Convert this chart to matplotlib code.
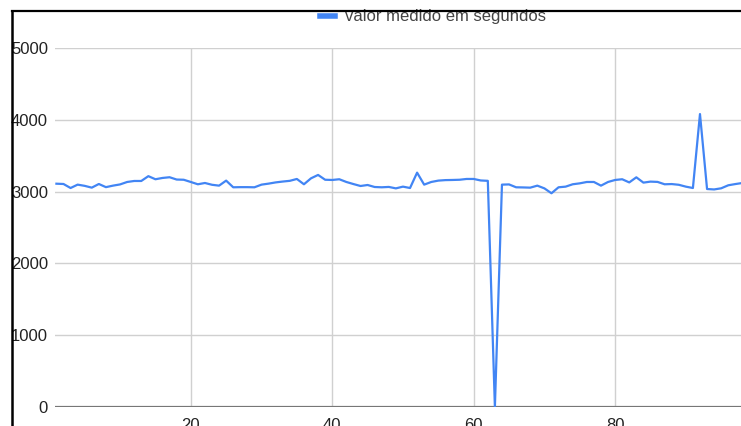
import matplotlib.pyplot as plt
from matplotlib.lines import Line2D

# valores (indice 1..98)
indices = list(range(1, 99))
valores = [
    3110, 3106, 3050, 3097, 3080, 3055, 3106, 3062, 3083, 3100,
    3134, 3148, 3148, 3215, 3172, 3190, 3200, 3168, 3165, 3134,
    3102, 3120, 3095, 3083, 3153, 3060, 3062, 3062, 3060, 3097,
    3111, 3128, 3140, 3150, 3176, 3102, 3185, 3232, 3165, 3162,
    3172, 3134, 3105, 3078, 3092, 3064, 3060, 3065, 3045, 3069,
    3050, 3264, 3097, 3134, 3153, 3160, 3162, 3165, 3176, 3176,
    3155, 3150, 0, 3097, 3100, 3060, 3058, 3055, 3083, 3045,
    2977, 3060, 3069, 3102, 3115, 3134, 3134, 3083, 3134, 3162,
    3172, 3128, 3199, 3125, 3139, 3135, 3102, 3105, 3095, 3069,
    3050, 4080, 3036, 3030, 3046, 3088, 3105, 3120,
]
xticks = [20, 40, 60, 80]
yticks = [0, 1000, 2000, 3000, 4000, 5000]
legenda = "valor medido em segundos"

plt.rcParams["font.family"] = ["Liberation Sans", "DejaVu Sans"]

W, H = 741, 426
fig = plt.figure(figsize=(W / 100, H / 100), dpi=100)
ax = fig.add_axes([55 / W, (H - 407) / H, (W - 55) / W, (407 - 48) / H])

ax.plot(indices, valores, color="#4285F4", lw=1.6, zorder=3, label=legenda)

ax.set_xlim(0.8, 97.8)
ax.set_ylim(0, 5000)
ax.set_xticks(xticks)
ax.set_yticks(yticks)
ax.grid(True, color="#d0d0d0", lw=1.0, zorder=0)
ax.axhline(0, color="#777777", lw=1.6, zorder=2)
for s in ax.spines.values():
    s.set_visible(False)
ax.tick_params(length=0, labelsize=12, colors="#222222")
ax.tick_params(axis="y", pad=5)
ax.tick_params(axis="x", pad=8)

fig.legend(
    handles=[Line2D([0], [0], color="#4285F4", lw=4)],
    labels=[legenda],
    loc="center",
    bbox_to_anchor=(433 / W, 1 - 17 / H),
    frameon=False,
    fontsize=12,
    labelcolor="#444444",
    handlelength=0.9,
    handletextpad=0.6,
    borderpad=0,
)

# bordas pretas do recorte
fig.add_artist(Line2D([12 / W, 1], [1 - 10.5 / H, 1 - 10.5 / H], color="black", lw=1.6, zorder=10))
fig.add_artist(Line2D([12 / W, 12 / W], [0, 1 - 10.5 / H], color="black", lw=1.8, zorder=10))

fig.savefig("out.png", dpi=100)
